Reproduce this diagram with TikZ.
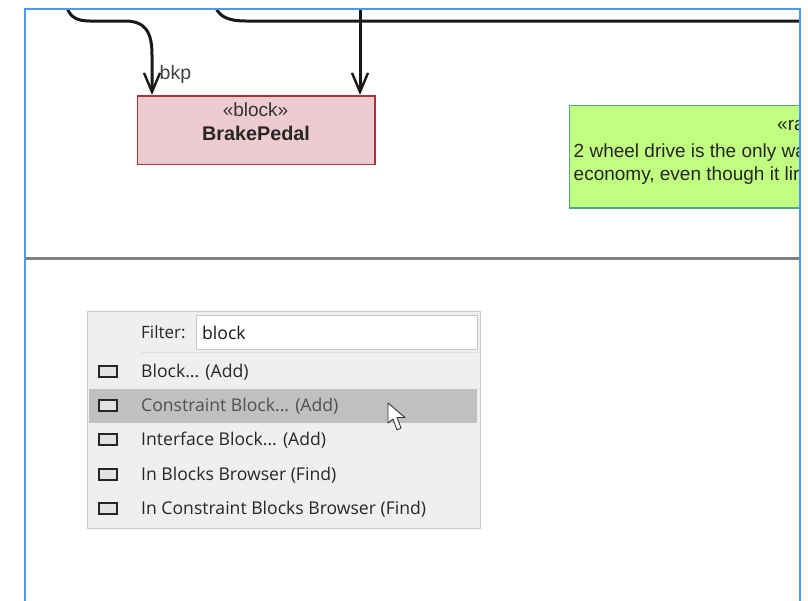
\documentclass[tikz,border=0pt]{standalone}
\usepackage{fontspec}
\setmainfont{Liberation Sans}
\newfontfamily\uifont{Open Sans}
\usetikzlibrary{arrows.meta}
\definecolor{framecol}{HTML}{449CFF}
\definecolor{divcol}{HTML}{808080}
\definecolor{blockfill}{HTML}{EECAD1}
\definecolor{blockline}{HTML}{A8343A}
\definecolor{ratfill}{HTML}{C0FF80}
\definecolor{ratline}{HTML}{4FA58F}
\definecolor{menufill}{HTML}{EFEFEF}
\definecolor{menuline}{HTML}{C8C8C8}
\definecolor{hilite}{HTML}{C0C0C0}
\definecolor{menutext}{HTML}{262626}
\definecolor{menudim}{HTML}{505050}
\definecolor{iconfill}{HTML}{E2E2E2}
\tikzset{
  conn/.style={draw=black!90,line width=3pt,-{Straight Barb[length=19pt,width=16pt,line width=2.4pt]}},
  connplain/.style={draw=black!90,line width=3pt},
  menulabel/.style={anchor=west,inner sep=0pt,font=\uifont\fontsize{17.6}{19}\selectfont,text=menutext},
  menuicon/.style={draw=black!85,fill=iconfill,line width=1.2pt,minimum width=18pt,minimum height=11pt,inner sep=0pt},
  difftext/.style={inner sep=0pt,text=black!85},
}
\begin{document}
\begin{tikzpicture}[x=1pt,y=-1pt]
\useasboundingbox (0,0) rectangle (808,600);
\fill[white] (0,0) rectangle (808,600);
\begin{scope}
\clip (24,8) rectangle (799.5,600);
% blocks
\node[draw=blockline,fill=blockfill,line width=1.6pt,minimum width=237.5pt,minimum height=68.5pt,inner sep=0pt,anchor=north west] (brake) at (136.5,95) {};
\node[difftext,font=\fontsize{19}{21}\selectfont,text=black!80] (brakeS) at (255.5,110) {«block»};
\node[difftext,font=\bfseries\fontsize{19.8}{21}\selectfont] (brakeN) at (256,133) {BrakePedal};
\node[draw=ratline,fill=ratfill,line width=1.6pt,minimum width=260pt,minimum height=102.5pt,inner sep=0pt,anchor=north west] (rat) at (568.5,104.5) {};
\node[difftext,anchor=west,font=\fontsize{19}{21}\selectfont] (ratS) at (777,125.5) {«ra};
\node[difftext,anchor=west,font=\fontsize{19}{21}\selectfont] (ratA) at (573.5,153) {2 wheel drive is the only wa};
\node[difftext,anchor=west,font=\fontsize{19}{21}\selectfont] (ratB) at (573.5,176) {economy, even though it lir};
% connectors
\coordinate (c1) at (67,8);
\coordinate (c2) at (216,8);
\coordinate (c3) at (360,8);
\coordinate (c4) at (801,21);
\draw[conn] (c1) .. controls (71,18) and (78,21) .. (90,21) -- (125,21) .. controls (146,21) and (152,33) .. (152,55) -- (brake.north west -| 152,96);
\draw[connplain] (c2) .. controls (220,17) and (229,21) .. (246,21) -- (c4);
\draw[conn] (c3) -- (brake.north west -| 360,96);
\node[difftext,anchor=west,font=\fontsize{19.5}{21}\selectfont,text=black!75] (bkp) at (159.5,74) {bkp};
% divider
\draw[divcol,line width=2.4pt] (24,258.5) -- (800,258.5);
\end{scope}
% frame
\draw[framecol,line width=2pt] (24.5,601) -- (24.5,8.5) -- (800,8.5) -- (800,601);
% menu
\node[draw=menuline,fill=menufill,line width=1pt,minimum width=393pt,minimum height=217pt,inner sep=0pt,anchor=north west] (menu) at (86.5,310.5) {};
\node[draw=menuline,fill=white,line width=1pt,minimum width=281pt,minimum height=34pt,inner sep=0pt,anchor=north west] (field) at (195.5,314.5) {};
\draw[menuline!60,line width=1pt] (141,352) -- (479,352);
\fill[hilite] (89,389) rectangle (477,422.5);
\node[menulabel,font=\uifont\fontsize{17}{19}\selectfont] (filter) at (141,332.5) {Filter:};
\node[menulabel,text=black!90] (ftext) at (202,333) {block};
\node[menuicon] (i1) at (108,371.5) {};
\node[menuicon] (i2) at (108,405.5) {};
\node[menuicon] (i3) at (108,439.5) {};
\node[menuicon] (i4) at (108,474.5) {};
\node[menuicon] (i5) at (108,508.5) {};
\node[menulabel] (m1) at (141,372) {Block... (Add)};
\node[menulabel,text=menudim] (m2) at (141,406) {Constraint Block... (Add)};
\node[menulabel] (m3) at (141,440.5) {Interface Block... (Add)};
\node[menulabel] (m4) at (141,475) {In Blocks Browser (Find)};
\node[menulabel] (m5) at (141,509) {In Constraint Blocks Browser (Find)};
% cursor
\draw[fill=white,draw=black!80,line width=0.9pt,line join=round]
 (388,403) -- (388,423) -- (393,419) -- (397,430) -- (401,428) -- (397,417.5) -- (405,417.5) -- cycle;
\end{tikzpicture}
\end{document}
